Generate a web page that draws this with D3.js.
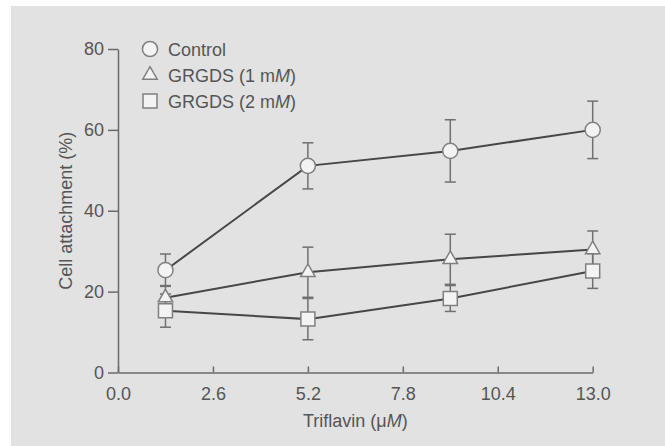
<!DOCTYPE html>
<html>
  <head>
    <meta charset="utf-8">
    <title>Cell attachment vs triflavin</title>
    <script src="https://d3js.org/d3.v7.min.js"></script>
    <style>
      body { margin: 0; background: #fff; }
      svg { display: block; }
      text { font-family: "Liberation Sans", Arial, sans-serif; fill: #555; }
      .axis path, .axis line { stroke: #6a6a6a; stroke-width: 1.5; }
      .axis text { font-size: 18px; fill: #555; }
    </style>
  </head>
  <body>
    <svg id="chart" width="665" height="446"></svg>
    <script>
      // data
      var doses = [1.3, 5.2, 9.1, 13.0];
      var controlMean = [25.3, 51.1, 54.8, 60.0];
      var controlErr = [4.0, 5.7, 7.7, 7.1];
      var grgds1Mean = [18.5, 24.8, 28.0, 30.4];
      var grgds1Err = [3.0, 6.2, 6.2, 4.6];
      var grgds2Mean = [15.3, 13.2, 18.3, 25.1];
      var grgds2Err = [4.1, 5.1, 3.2, 4.3];
      var xTicks = [0, 2.6, 5.2, 7.8, 10.4, 13.0];
      var yTicks = [0, 20, 40, 60, 80];

      var series = [
        { name: "Control", unit: "", mean: controlMean, err: controlErr, symbol: d3.symbolCircle, size: 180 },
        { name: "GRGDS (1 m", unit: "M", mean: grgds1Mean, err: grgds1Err, symbol: d3.symbolTriangle, size: 90 },
        { name: "GRGDS (2 m", unit: "M", mean: grgds2Mean, err: grgds2Err, symbol: d3.symbolSquare, size: 196 }
      ];

      var svg = d3.select("#chart");
      // grey paper background
      svg.append("rect")
        .attr("x", 11).attr("y", 6)
        .attr("width", 654).attr("height", 440)
        .attr("fill", "#e2e2e2");

      var x = d3.scaleLinear().domain([0, 13]).range([118, 592.7]);
      var y = d3.scaleLinear().domain([0, 80]).range([372.5, 49]);

      // axes
      var xAxis = d3.axisBottom(x)
        .tickValues(xTicks)
        .tickFormat(d3.format(".1f"))
        .tickSizeInner(-6)
        .tickSizeOuter(0)
        .tickPadding(15);
      svg.append("g")
        .attr("class", "axis")
        .attr("transform", "translate(0," + y(0) + ")")
        .call(xAxis);

      var yAxis = d3.axisLeft(y)
        .tickValues(yTicks)
        .tickSizeInner(10)
        .tickSizeOuter(0)
        .tickPadding(4);
      svg.append("g")
        .attr("class", "axis")
        .attr("transform", "translate(" + x(0) + ",0)")
        .call(yAxis);

      // axis titles
      var xt = svg.append("text")
        .attr("x", (x(0) + x(13)) / 2)
        .attr("y", 427)
        .attr("text-anchor", "middle")
        .style("font-size", "18px");
      xt.append("tspan").text("Triflavin (\u03bc");
      xt.append("tspan").style("font-style", "italic").text("M");
      xt.append("tspan").text(")");

      svg.append("text")
        .attr("transform", "translate(72," + (y(0) + y(80)) / 2 + ") rotate(-90)")
        .attr("text-anchor", "middle")
        .style("font-size", "18px")
        .text("Cell attachment (%)");

      var line = d3.line()
        .x(function(d, i) { return x(doses[i]); })
        .y(function(d) { return y(d); });

      // lines first, then error bars, then markers
      series.forEach(function(s) {
        svg.append("path")
          .attr("d", line(s.mean))
          .attr("fill", "none")
          .attr("stroke", "#474747")
          .attr("stroke-width", 2);
      });

      series.forEach(function(s) {
        var g = svg.append("g")
          .attr("stroke", "#707070")
          .attr("stroke-width", 1.5);
        s.mean.forEach(function(m, i) {
          var cx = x(doses[i]);
          var top = y(m + s.err[i]);
          var bot = y(m - s.err[i]);
          g.append("line").attr("x1", cx).attr("x2", cx).attr("y1", top).attr("y2", bot);
          g.append("line").attr("x1", cx - 5.5).attr("x2", cx + 5.5).attr("y1", top).attr("y2", top);
          g.append("line").attr("x1", cx - 5.5).attr("x2", cx + 5.5).attr("y1", bot).attr("y2", bot);
        });
      });

      series.forEach(function(s) {
        var sym = d3.symbol().type(s.symbol).size(s.size);
        svg.append("g")
          .selectAll("path")
          .data(s.mean)
          .enter().append("path")
            .attr("d", sym)
            .attr("transform", function(d, i) { return "translate(" + x(doses[i]) + "," + y(d) + ")"; })
            .attr("fill", "#f3f3f3")
            .attr("stroke", "#808080")
            .attr("stroke-width", 1.5);
      });

      // legend
      var legend = svg.append("g");
      series.forEach(function(s, i) {
        var ly = 49 + i * 26;
        legend.append("path")
          .attr("d", d3.symbol().type(s.symbol).size(s.size)())
          .attr("transform", "translate(150," + ly + ")")
          .attr("fill", "#f3f3f3")
          .attr("stroke", "#808080")
          .attr("stroke-width", 1.5);
        var t = legend.append("text")
          .attr("x", 168)
          .attr("y", ly + 6.5)
          .style("font-size", "18px");
        t.append("tspan").text(s.name);
        if (s.unit) {
          t.append("tspan").style("font-style", "italic").text(s.unit);
          t.append("tspan").text(")");
        }
      });
    </script>
  </body>
</html>
